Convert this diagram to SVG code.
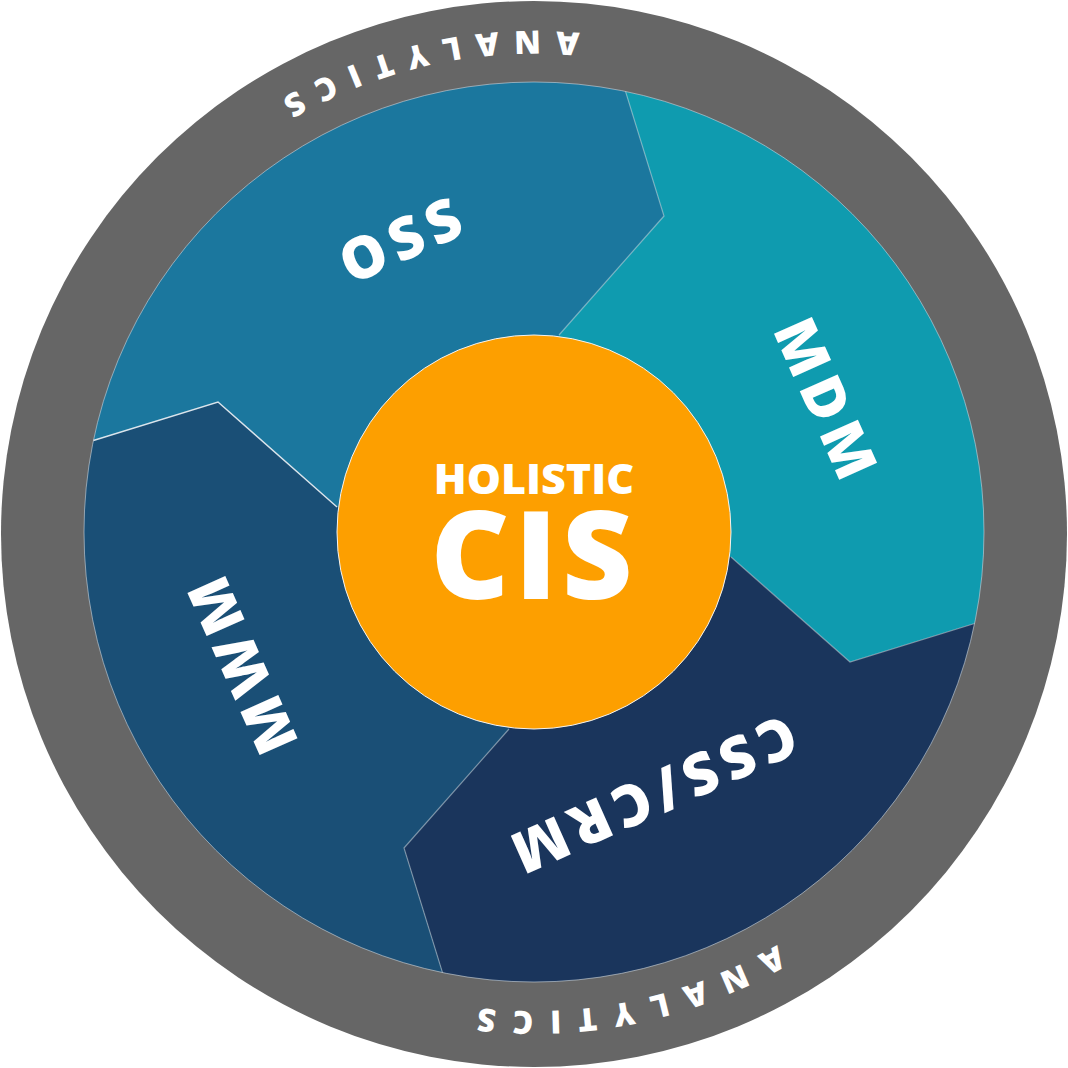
<svg xmlns="http://www.w3.org/2000/svg" width="1068" height="1068" viewBox="0 0 1068 1068">
<defs>
<style>
.seg-label{font-family:"Open Sans","Liberation Sans",sans-serif;font-weight:800;font-size:58px;fill:#ffffff;text-anchor:middle;letter-spacing:7px}
.ring-label{font-family:"Open Sans","Liberation Sans",sans-serif;font-weight:800;font-size:32px;fill:#ffffff;letter-spacing:16px}
.center-label{font-family:"Open Sans","Liberation Sans",sans-serif;font-weight:800;fill:#ffffff;text-anchor:middle}
.divider{fill:none;stroke:#e3ecf2;stroke-width:1.2;stroke-opacity:0.45;stroke-linejoin:miter}
.divider-strong{fill:none;stroke:#eef3f7;stroke-width:1.4;stroke-opacity:0.9;stroke-linejoin:miter}
</style>
<clipPath id="disc"><circle cx="0" cy="0" r="450"/></clipPath>
<path id="segShape" d="M0,0 L-197,-25 L-316,-130 L-600,-42 L-600,-600 L42,-600 L130,-316 L25,-197 Z"/>
<polyline id="divLine" points="25,-197 130,-316 91.5,-440.6"/>
<path id="arcTop" d="M873.8,163.1 A503,503 0 0 0 69.3,341.5"/>
<path id="arcBottom" d="M973.1,720.4 A477,477 0 0 1 208.7,882.9"/>
</defs>

<g id="analytics">
<circle cx="534" cy="534" r="533" fill="#666666"/>
<text class="ring-label"><textPath href="#arcTop" startOffset="50.8%" text-anchor="middle">ANALYTICS</textPath></text>
<text class="ring-label"><textPath href="#arcBottom" startOffset="50.9%" text-anchor="middle">ANALYTICS</textPath></text>
</g>

<g transform="translate(534,532)">
<g id="oss">
<use href="#segShape" fill="#1b779e" clip-path="url(#disc)"/>
<text class="seg-label" transform="rotate(-24)" x="0" y="-300">OSS</text>
</g>
<g id="mdm">
<use href="#segShape" transform="rotate(90)" fill="#0f9baf" clip-path="url(#disc)"/>
<text class="seg-label" transform="rotate(66)" x="0" y="-300">MDM</text>
</g>
<g id="css-crm">
<use href="#segShape" transform="rotate(180)" fill="#1a355c" clip-path="url(#disc)"/>
<text class="seg-label" transform="rotate(156)" x="0" y="-268">CSS/CRM</text>
</g>
<g id="mwm">
<use href="#segShape" transform="rotate(270)" fill="#1a4f76" clip-path="url(#disc)"/>
<text class="seg-label" transform="rotate(246)" x="0" y="-300">MWM</text>
</g>
<g id="connectors">
<use href="#divLine" class="divider"/>
<use href="#divLine" class="divider" transform="rotate(90)"/>
<use href="#divLine" class="divider" transform="rotate(180)"/>
<use href="#divLine" class="divider-strong" transform="rotate(270)"/>
<circle cx="0" cy="0" r="450" fill="none" stroke="#c9d6df" stroke-width="1" stroke-opacity="0.6"/>
</g>
<g id="holistic-cis">
<circle cx="0" cy="0" r="197" fill="#fd9f00" stroke="#f3f3f3" stroke-width="1"/>
<text class="center-label" x="0" y="-38" font-size="43">HOLISTIC</text>
<text class="center-label" x="0" y="67" font-size="122" letter-spacing="5">CIS</text>
</g>
</g>
</svg>
